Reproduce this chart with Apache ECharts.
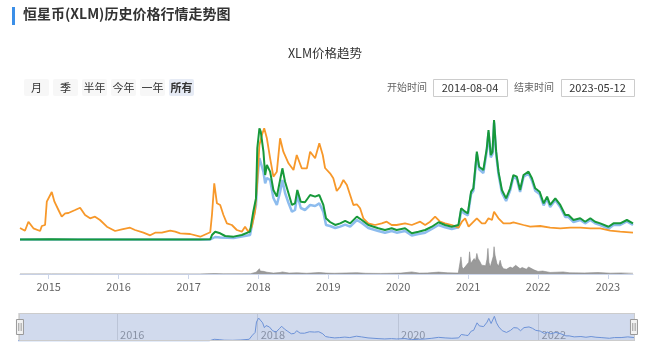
<!DOCTYPE html>
<html>
<head>
<meta charset="utf-8">
<script src="https://cdn.jsdelivr.net/npm/echarts@6/dist/echarts.min.js"></script>
<style>
html,body{margin:0;padding:0;background:#fff;}
#chart{width:650px;height:345px;}
</style>
</head>
<body>
<div id="chart"></div>
<script>
// ---- data ----
const startDate = '2014-08-04';
const endDate = '2023-05-12';
const rangeButtons = ['月', '季', '半年', '今年', '一年', '所有'];

// XLM price in BTC (satoshi)
const priceBtc = [
['2014-08-04',600],['2014-08-30',465],['2014-09-17',915],['2014-10-13',585],['2014-11-17',450],['2014-11-26',700],['2014-12-13',750],['2014-12-22',1915],['2014-12-31',2000],['2015-01-17',2400],['2015-01-31',1915],['2015-02-21',1500],['2015-03-10',1165],['2015-03-28',1335],['2015-04-14',1350],['2015-05-19',1500],['2015-06-14',1615],['2015-07-10',1250],['2015-08-05',1085],['2015-08-31',1165],['2015-09-26',1000],['2015-11-01',665],['2015-12-14',450],['2016-01-18',535],['2016-03-01',615],['2016-03-27',500],['2016-05-10',365],['2016-06-14',235],['2016-07-10',365],['2016-08-14',365],['2016-09-27',465],['2016-10-23',415],['2016-11-18',335],['2017-01-09',300],['2017-03-03',165],['2017-04-24',385],['2017-05-03',1250],['2017-05-15',2835],['2017-05-29',1835],['2017-06-15',1750],['2017-07-02',1250],['2017-07-20',835],['2017-08-15',750],['2017-09-10',500],['2017-10-06',415],['2017-10-23',665],['2017-11-09',415],['2017-11-27',665],['2017-12-14',1415],['2017-12-26',2915],['2018-01-06',4750],['2018-01-19',5250],['2018-01-31',5585],['2018-02-14',5085],['2018-03-03',4085],['2018-03-20',3165],['2018-04-07',3415],['2018-04-24',5085],['2018-05-11',4415],['2018-06-07',3835],['2018-07-03',3500],['2018-07-20',4250],['2018-08-15',3585],['2018-09-11',3585],['2018-09-28',4415],['2018-10-24',4085],['2018-11-15',4835],['2018-12-03',4250],['2018-12-15',3600],['2019-01-10',3335],['2019-01-27',3085],['2019-02-14',2450],['2019-03-04',2665],['2019-03-21',3000],['2019-04-08',2750],['2019-04-25',2250],['2019-05-12',1750],['2019-05-30',1785],['2019-06-16',1585],['2019-07-03',1085],['2019-07-29',835],['2019-09-02',750],['2019-10-07',835],['2019-11-02',915],['2019-11-28',750],['2019-12-24',750],['2020-02-06',835],['2020-03-12',750],['2020-04-25',915],['2020-05-21',750],['2020-06-16',915],['2020-07-12',1165],['2020-08-07',915],['2020-09-02',835],['2020-10-07',750],['2020-11-11',615],['2020-11-29',915],['2020-12-16',1085],['2021-01-03',665],['2021-01-20',835],['2021-02-15',1085],['2021-03-13',835],['2021-03-31',835],['2021-04-17',1085],['2021-05-05',1000],['2021-05-16',1415],['2021-06-08',1085],['2021-07-04',835],['2021-08-08',835],['2021-08-25',885],['2021-10-17',750],['2021-11-21',665],['2022-01-12',700],['2022-03-05',615],['2022-04-27',585],['2022-06-18',615],['2022-08-09',615],['2022-10-01',585],['2022-11-22',585],['2023-01-13',465],['2023-03-06',415],['2023-05-12',365]
];

// XLM price in USD
const priceUsd = [
['2014-08-04',0.003],['2015-01-15',0.004],['2015-06-01',0.003],['2016-01-01',0.003],['2016-09-01',0.003],['2017-03-01',0.003],['2017-04-24',0.004],['2017-05-03',0.031],['2017-05-20',0.052],['2017-06-15',0.042],['2017-07-11',0.025],['2017-08-24',0.021],['2017-10-06',0.031],['2017-11-18',0.052],['2017-12-05',0.177],['2017-12-19',0.26],['2017-12-26',0.575],['2018-01-06',0.698],['2018-01-13',0.677],['2018-01-27',0.552],['2018-02-05',0.406],['2018-02-14',0.469],['2018-03-03',0.427],['2018-03-20',0.3125],['2018-04-07',0.271],['2018-04-24',0.375],['2018-05-06',0.448],['2018-05-20',0.364],['2018-06-07',0.292],['2018-06-25',0.219],['2018-07-11',0.229],['2018-07-23',0.3125],['2018-08-10',0.239],['2018-09-01',0.236],['2018-09-28',0.281],['2018-10-24',0.271],['2018-11-15',0.281],['2018-12-06',0.219],['2018-12-20',0.136],['2019-01-10',0.1125],['2019-02-06',0.094],['2019-03-04',0.104],['2019-03-30',0.119],['2019-04-25',0.104],['2019-05-30',0.146],['2019-06-25',0.125],['2019-07-29',0.094],['2019-09-19',0.073],['2019-10-24',0.0625],['2019-11-28',0.073],['2019-12-24',0.0625],['2020-02-06',0.073],['2020-03-12',0.042],['2020-04-16',0.052],['2020-05-21',0.0625],['2020-06-25',0.083],['2020-07-30',0.111],['2020-09-02',0.094],['2020-10-07',0.083],['2020-11-11',0.094],['2020-11-25',0.198],['2020-12-16',0.177],['2020-12-30',0.167],['2021-01-16',0.302],['2021-01-28',0.323],['2021-02-15',0.552],['2021-02-27',0.458],['2021-03-21',0.4375],['2021-04-08',0.573],['2021-04-17',0.6875],['2021-04-29',0.531],['2021-05-08',0.552],['2021-05-16',0.75],['2021-05-27',0.552],['2021-06-08',0.427],['2021-06-26',0.3125],['2021-07-18',0.26],['2021-08-08',0.323],['2021-08-25',0.406],['2021-09-12',0.396],['2021-09-29',0.3125],['2021-10-17',0.406],['2021-11-12',0.427],['2021-11-30',0.386],['2021-12-17',0.323],['2022-01-09',0.302],['2022-01-30',0.229],['2022-02-17',0.271],['2022-03-05',0.219],['2022-04-01',0.26],['2022-04-27',0.219],['2022-05-23',0.156],['2022-06-09',0.156],['2022-07-05',0.125],['2022-08-09',0.136],['2022-09-04',0.114],['2022-10-01',0.136],['2022-10-26',0.114],['2022-11-22',0.104],['2023-01-04',0.083],['2023-01-30',0.104],['2023-03-06',0.104],['2023-04-10',0.125],['2023-05-12',0.104]
];

// Market cap (billion USD)
const marketCap = [
['2014-08-04',0.075],['2015-06-01',0.075],['2016-06-01',0.075],['2017-04-24',0.075],['2017-05-20',0.45],['2017-06-15',0.375],['2017-08-24',0.3],['2017-11-18',0.75],['2017-12-05',3.3],['2017-12-19',5.25],['2017-12-26',9],['2018-01-06',12.3],['2018-01-13',12.35],['2018-01-27',10.2],['2018-02-05',8.5],['2018-02-14',9.3],['2018-03-03',9],['2018-03-20',6.3],['2018-04-07',5.25],['2018-04-24',7.2],['2018-05-06',9],['2018-05-20',7.05],['2018-06-07',5.55],['2018-06-25',4.25],['2018-07-11',4.5],['2018-07-23',6.75],['2018-08-10',4.8],['2018-09-01',4.5],['2018-09-28',5.25],['2018-10-24',5.1],['2018-11-15',5.5],['2018-12-06',4.2],['2018-12-20',2.25],['2019-01-10',2.1],['2019-02-06',1.8],['2019-03-04',2.0],['2019-03-30',2.3],['2019-04-25',2.0],['2019-05-30',3.0],['2019-06-25',2.55],['2019-07-29',1.8],['2019-09-19',1.35],['2019-10-24',1.1],['2019-11-28',1.35],['2019-12-24',1.1],['2020-02-06',1.35],['2020-03-12',0.68],['2020-04-16',0.9],['2020-05-21',1.1],['2020-06-25',1.65],['2020-07-30',2.25],['2020-09-02',1.9],['2020-10-07',1.65],['2020-11-11',1.9],['2020-11-25',4.35],['2020-12-16',3.9],['2020-12-30',3.7],['2021-01-16',6.9],['2021-01-28',7.4],['2021-02-15',12.9],['2021-02-27',10.6],['2021-03-21',10.05],['2021-04-08',13.35],['2021-04-17',16.1],['2021-04-29',12.4],['2021-05-08',12.9],['2021-05-16',17.6],['2021-05-27',12.9],['2021-06-08',9.9],['2021-06-26',7.1],['2021-07-18',5.85],['2021-08-08',7.4],['2021-08-25',9.45],['2021-09-12',9.15],['2021-09-29',7.2],['2021-10-17',9.45],['2021-11-12',10],['2021-11-30',8.9],['2021-12-17',7.4],['2022-01-09',6.9],['2022-01-30',5.2],['2022-02-17',6.2],['2022-03-05',4.95],['2022-04-01',6],['2022-04-27',4.95],['2022-05-23',3.45],['2022-06-09',3.45],['2022-07-05',2.7],['2022-08-09',3.0],['2022-09-04',2.5],['2022-10-01',3.0],['2022-10-26',2.5],['2022-11-22',2.25],['2023-01-04',1.7],['2023-01-30',2.25],['2023-03-06',2.25],['2023-04-10',2.8],['2023-05-12',2.25]
];

// 24h volume (billion USD)
const volume = [
['2014-08-04',0.01],['2015-01-15',0.02],['2016-06-01',0.01],['2017-03-01',0.01],['2017-05-15',0.08],['2017-07-01',0.03],['2017-11-20',0.05],['2017-12-20',0.3],['2017-12-30',0.6],['2018-01-06',0.9],['2018-01-10',0.5],['2018-01-16',0.75],['2018-01-27',0.45],['2018-02-14',0.3],['2018-03-20',0.15],['2018-04-24',0.25],['2018-05-06',0.35],['2018-06-10',0.15],['2018-07-23',0.2],['2018-09-10',0.12],['2018-11-15',0.25],['2018-12-20',0.15],['2019-02-01',0.12],['2019-05-30',0.22],['2019-07-15',0.12],['2019-10-01',0.1],['2020-01-15',0.15],['2020-03-12',0.35],['2020-04-20',0.15],['2020-06-01',0.18],['2020-07-30',0.32],['2020-09-15',0.2],['2020-11-10',0.15],['2020-11-20',0.3],['2020-11-24',2.9],['2020-11-30',1.2],['2020-12-06',0.85],['2020-12-18',1.3],['2020-12-27',1.1],['2021-01-04',2.0],['2021-01-08',3.76],['2021-01-14',1.8],['2021-01-20',1.47],['2021-02-01',2.62],['2021-02-08',2.2],['2021-02-15',3.48],['2021-02-22',2.6],['2021-03-04',2.03],['2021-03-12',1.5],['2021-03-21',1.17],['2021-04-02',1.4],['2021-04-09',2.5],['2021-04-14',4.34],['2021-04-19',2.0],['2021-04-26',1.17],['2021-05-05',1.4],['2021-05-12',3.0],['2021-05-16',4.62],['2021-05-21',3.2],['2021-05-31',1.76],['2021-06-08',1.3],['2021-06-17',2.33],['2021-06-24',1.4],['2021-07-04',0.9],['2021-07-20',0.8],['2021-08-08',1.17],['2021-08-20',1.0],['2021-09-06',1.47],['2021-09-12',1.2],['2021-09-29',0.9],['2021-10-10',1.1],['2021-10-17',1.07],['2021-11-01',0.8],['2021-11-12',1.2],['2021-11-21',0.9],['2021-12-10',0.7],['2022-01-01',0.43],['2022-01-25',0.5],['2022-03-05',0.26],['2022-05-12',0.35],['2022-06-15',0.2],['2022-09-01',0.18],['2022-11-10',0.25],['2023-01-15',0.14],['2023-03-10',0.18],['2023-05-12',0.12]
];

// ---- chart ----
const FONT = '"Noto Sans CJK SC", "Noto Sans", sans-serif';
const YEAR = 365.25 * 24 * 3600 * 1000;
const tMin = +new Date(startDate + 'T00:00:00Z');
const tMax = +new Date(endDate + 'T00:00:00Z');

function yearLabel(v) {
  const d = new Date(v);
  return (d.getMonth() === 0 && d.getDate() === 1) ? String(d.getFullYear()) : '';
}

const chart = echarts.init(document.getElementById('chart'), null, {renderer: 'canvas'});

// buttons and date inputs as graphic elements
const graphics = [
  {type: 'rect', left: 12, top: 7, shape: {width: 3, height: 18}, style: {fill: '#3b8fe8'}},
  {type: 'text', left: 23, top: 7, style: {text: '恒星币(XLM)历史价格行情走势图', font: 'bold 14px ' + FONT, fill: '#333'}}
];
const btnX = [24, 53, 82, 111, 140, 169];
rangeButtons.forEach((b, i) => {
  const sel = i === rangeButtons.length - 1;
  graphics.push({type: 'rect', left: btnX[i], top: 79, shape: {width: 25, height: 17, r: 2},
    style: {fill: sel ? '#e6ebf5' : '#f7f7f7'}});
  graphics.push({type: 'text', x: btnX[i] + 12.5, y: 87.5,
    style: {text: b, font: (sel ? 'bold ' : '') + '11px ' + FONT, fill: '#333', align: 'center', verticalAlign: 'middle'}});
});
graphics.push({type: 'text', x: 427, y: 87.5, style: {text: '开始时间', font: '10px ' + FONT, fill: '#666', align: 'right', verticalAlign: 'middle'}});
graphics.push({type: 'rect', left: 433, top: 79, shape: {width: 74, height: 17}, style: {fill: '#fff', stroke: '#ccc', lineWidth: 1}});
graphics.push({type: 'text', x: 470, y: 87.5, style: {text: startDate, font: '11px ' + FONT, fill: '#333', align: 'center', verticalAlign: 'middle'}});
graphics.push({type: 'text', x: 554, y: 87.5, style: {text: '结束时间', font: '10px ' + FONT, fill: '#666', align: 'right', verticalAlign: 'middle'}});
graphics.push({type: 'rect', left: 561, top: 79, shape: {width: 73, height: 17}, style: {fill: '#fff', stroke: '#ccc', lineWidth: 1}});
graphics.push({type: 'text', x: 597.5, y: 87.5, style: {text: endDate, font: '11px ' + FONT, fill: '#333', align: 'center', verticalAlign: 'middle'}});

const option = {
  animation: false,
  backgroundColor: '#fff',
  textStyle: {fontFamily: FONT},
  title: {text: 'XLM价格趋势', left: 'center', top: 42, textStyle: {fontSize: 12.5, fontWeight: 'normal', color: '#333', fontFamily: FONT}},
  graphic: graphics,
  grid: [
    {left: 20, right: 17, top: 120, height: 120},
    {left: 20, right: 17, top: 244.5, height: 29.5},
    {left: 18, right: 16, top: 313, height: 28}
  ],
  xAxis: [
    {type: 'time', gridIndex: 0, min: tMin, max: tMax, show: false},
    {type: 'time', gridIndex: 1, min: tMin, max: tMax, minInterval: YEAR, maxInterval: YEAR,
      axisLine: {lineStyle: {color: '#ccd6eb'}},
      axisTick: {show: true, length: 5, lineStyle: {color: '#ccd6eb'}},
      axisLabel: {color: '#666', fontSize: 11, margin: 7, formatter: yearLabel, fontFamily: FONT, showMinLabel: false, showMaxLabel: false},
      splitLine: {show: false}},
    {type: 'time', gridIndex: 2, min: tMin, max: tMax, minInterval: 2 * YEAR, maxInterval: 2 * YEAR,
      axisLine: {show: false}, axisTick: {show: false},
      axisLabel: {inside: true, align: 'left', verticalAlign: 'bottom', margin: 1, padding: [0, 0, 0, 3], color: '#999', fontSize: 11, formatter: yearLabel, fontFamily: FONT, showMinLabel: false, showMaxLabel: false},
      splitLine: {show: true, lineStyle: {color: '#e0e0e0', width: 1}}}
  ],
  yAxis: [
    {type: 'value', gridIndex: 0, min: 0, max: 6000, show: false},
    {type: 'value', gridIndex: 0, min: 0, max: 0.75, show: false},
    {type: 'value', gridIndex: 0, min: 0, max: 18, show: false},
    {type: 'value', gridIndex: 1, min: 0, max: 5, show: false},
    {type: 'value', gridIndex: 2, min: 0, max: 0.85, show: false}
  ],
  dataZoom: [{
    type: 'slider', xAxisIndex: [0, 1], start: 0, end: 100,
    left: 18, right: 16, top: 313, height: 28,
    showDetail: false, showDataShadow: false, brushSelect: false, moveHandleSize: 0,
    backgroundColor: 'rgba(0,0,0,0)',
    fillerColor: 'rgba(102,133,194,0.3)',
    borderColor: '#cccccc', borderRadius: 0,
    handleIcon: 'path://M-3.5,-7.5h7v15h-7zM-1.2,-4v8M1.2,-4v8',
    handleSize: 15,
    handleStyle: {color: '#f2f2f2', borderColor: '#999', borderWidth: 1},
    emphasis: {handleStyle: {color: '#f2f2f2', borderColor: '#999'}}
  }],
  series: [
    {name: '市值', type: 'line', xAxisIndex: 0, yAxisIndex: 2, data: marketCap, showSymbol: false,
      lineStyle: {color: '#8dbcee', width: 2.5}, itemStyle: {color: '#8dbcee'}, z: 2},
    {name: '价格(BTC)', type: 'line', xAxisIndex: 0, yAxisIndex: 0, data: priceBtc, showSymbol: false,
      lineStyle: {color: '#f7982a', width: 1.8}, itemStyle: {color: '#f7982a'}, z: 3},
    {name: '价格(USD)', type: 'line', xAxisIndex: 0, yAxisIndex: 1, data: priceUsd, showSymbol: false,
      lineStyle: {color: '#17993a', width: 2}, itemStyle: {color: '#17993a'}, z: 4},
    {name: '成交量', type: 'line', xAxisIndex: 1, yAxisIndex: 3, data: volume, showSymbol: false,
      lineStyle: {color: '#8c8c8c', width: 0.6}, areaStyle: {color: '#9a9a9a', opacity: 1}, itemStyle: {color: '#8c8c8c'}},
    {name: '导航', type: 'line', xAxisIndex: 2, yAxisIndex: 4, data: priceUsd, showSymbol: false,
      lineStyle: {color: '#6f98e0', width: 1}, areaStyle: {color: 'rgba(51,92,173,0.05)'}, itemStyle: {color: '#6f98e0'}, silent: true}
  ]
};
chart.setOption(option);
</script>
</body>
</html>
